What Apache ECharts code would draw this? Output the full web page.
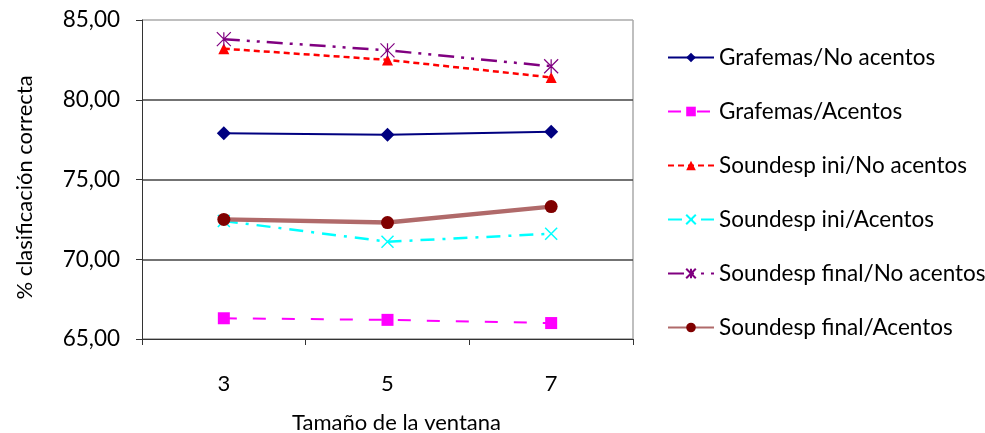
<!DOCTYPE html>
<html>
<head>
<meta charset="utf-8">
<script src="https://cdn.jsdelivr.net/npm/echarts@6/dist/echarts.min.js"></script>
<style>
  html, body { margin: 0; padding: 0; background: #fff; }
  #chart { width: 985px; height: 433px; }
</style>
</head>
<body>
<div id="chart"></div>
<script>
// datos
var ventanas = ['3', '5', '7'];
var yTicks = [65, 70, 75, 80, 85];

var grafNoAcentos = [77.9, 77.8, 78.0];
var grafAcentos = [66.3, 66.2, 66.0];
var iniNoAcentos = [83.2, 82.5, 81.4];
var iniAcentos = [72.4, 71.1, 71.6];
var finalNoAcentos = [83.8, 83.1, 82.1];
var finalAcentos = [72.5, 72.3, 73.3];

var FONT = 'Lato';

var chart = echarts.init(document.getElementById('chart'));

function serie(nombre, datos, color, tipo, ancho, simbolo, tam, extra) {
  var s = {
    name: nombre,
    type: 'line',
    data: datos,
    symbol: simbolo,
    symbolSize: tam,
    lineStyle: { color: color, width: ancho, type: tipo },
    itemStyle: { color: color },
    emphasis: { disabled: true },
    animation: false
  };
  if (extra) s.itemStyle = extra;
  return s;
}

var cruz = 'path://M0,0L10,10M0,10L10,0';
var asterisco = 'path://M0,0L10,10M0,10L10,0M5,0L5,10';

var option = {
  animation: false,
  grid: { left: 142, right: 352, top: 20, bottom: 94, outerBoundsMode: 'none' },
  legend: {
    orient: 'vertical',
    left: 667,
    top: 46,
    padding: 0,
    itemWidth: 46,
    itemHeight: 12,
    itemGap: 31,
    textStyle: { fontFamily: FONT, fontSize: 22.5, color: '#000', lineHeight: 21 },
    data: ['Grafemas/No acentos', 'Grafemas/Acentos', 'Soundesp ini/No acentos',
           'Soundesp ini/Acentos', 'Soundesp final/No acentos', 'Soundesp final/Acentos']
  },
  xAxis: {
    type: 'category',
    data: ventanas,
    boundaryGap: true,
    name: 'Tamaño de la ventana',
    nameLocation: 'middle',
    nameGap: 73,
    nameTextStyle: { fontFamily: FONT, fontSize: 22, color: '#000', padding: [0, 0, 0, 18] },
    axisLine: { lineStyle: { color: '#333', width: 1 } },
    axisTick: { show: true, length: 6, lineStyle: { color: '#333' } },
    axisLabel: { fontFamily: FONT, fontSize: 22, color: '#000', margin: 34 }
  },
  yAxis: {
    type: 'value',
    min: 65,
    max: 85,
    interval: 5,
    name: '% clasificación correcta',
    nameLocation: 'middle',
    nameGap: 106,
    nameTextStyle: { fontFamily: FONT, fontSize: 22, color: '#000', padding: [0, 16, 0, 0] },
    axisLine: { show: true, lineStyle: { color: '#333', width: 1 } },
    axisTick: { show: true, length: 6, lineStyle: { color: '#333' } },
    axisLabel: {
      fontFamily: FONT, fontSize: 22.5, color: '#000', margin: 22,
      formatter: function (v) { return v.toFixed(2).replace('.', ','); }
    },
    splitLine: { show: true, lineStyle: { color: ['#999', '#444', '#444', '#444', '#aaa'], width: 1.5 } }
  },
  graphic: [{
    type: 'line',
    shape: { x1: 633, y1: 20, x2: 633, y2: 339 },
    style: { stroke: '#aaa', lineWidth: 1.5 },
    z: 0
  }],
  series: [
    serie('Grafemas/No acentos', grafNoAcentos, '#000080', 'solid', 2, 'diamond', 14),
    serie('Grafemas/Acentos', grafAcentos, '#FF00FF', [13, 16], 2, 'rect', 12),
    serie('Soundesp ini/No acentos', iniNoAcentos, '#FF0000', [6, 4], 2.5, 'triangle', 11),
    serie('Soundesp ini/Acentos', iniAcentos, '#00FFFF', [14, 8, 3, 8], 2.5, cruz, 12,
      { color: '#00FFFF', borderColor: '#00FFFF', borderWidth: 1.5 }),
    serie('Soundesp final/No acentos', finalNoAcentos, '#800080', [16, 7, 3, 7, 3, 7], 2.5, asterisco, 14,
      { color: '#800080', borderColor: '#800080', borderWidth: 1.2 }),
    serie('Soundesp final/Acentos', finalAcentos, '#b06a6a', 'solid', 4.5, 'circle', 13,
      { color: '#800000' })
  ]
};

chart.setOption(option);
</script>
</body>
</html>
